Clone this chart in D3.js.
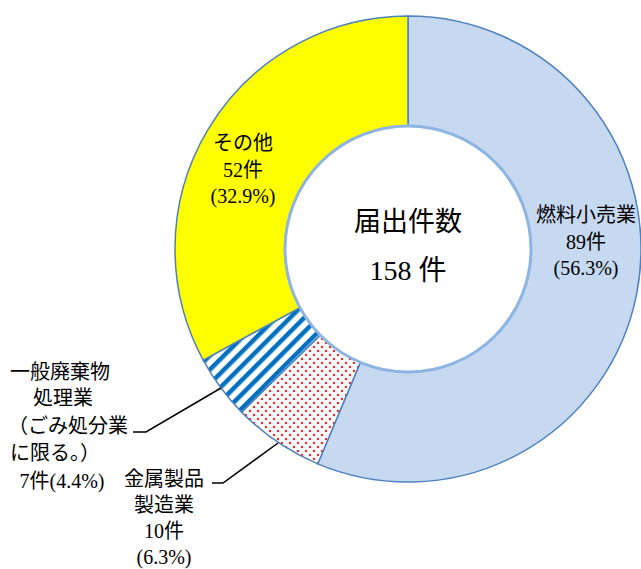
<!DOCTYPE html>
<html><head><meta charset="utf-8">
<script src="https://cdn.jsdelivr.net/npm/d3@7"></script>
<style>
html,body{margin:0;padding:0;background:#fff;}
svg{display:block;}
text{font-family:"Liberation Serif","Noto Sans CJK JP",serif;fill:#000;}
</style></head><body>
<svg id="c" width="641" height="569"></svg>
<script>
const categories = ["燃料小売業","金属製品製造業","一般廃棄物処理業（ごみ処分業に限る。）","その他"];
const counts = [89, 10, 7, 52];
const percents = ["56.3%","6.3%","4.4%","32.9%"];
const total = 158;
const centerTitle = ["届出件数", "158 件"];
const labelLines = [
  ["燃料小売業","89件","(56.3%)"],
  ["金属製品","製造業","10件","(6.3%)"],
  ["一般廃棄物","処理業","（ごみ処分業","に限る。）","7件(4.4%)"],
  ["その他","52件","(32.9%)"]
];

const svg = d3.select("#c");
const cx = 408, cy = 249, R = 233, r = 123;

const defs = svg.append("defs");
const dots = defs.append("pattern").attr("id","dots").attr("patternUnits","userSpaceOnUse")
  .attr("width",8).attr("height",8);
dots.append("rect").attr("width",8).attr("height",8).attr("fill","#fff");
dots.append("circle").attr("cx",2).attr("cy",2).attr("r",1.2).attr("fill","#ff2020");
dots.append("circle").attr("cx",6).attr("cy",6).attr("r",1.2).attr("fill","#ff2020");

const stripes = defs.append("pattern").attr("id","stripes").attr("patternUnits","userSpaceOnUse")
  .attr("width",10).attr("height",10).attr("patternTransform","rotate(-45)");
stripes.append("rect").attr("width",10).attr("height",10).attr("fill","#fff");
stripes.append("rect").attr("y",3).attr("width",10).attr("height",4.5).attr("fill","#0070c0");

const fills = ["#c6d9f0","url(#dots)","url(#stripes)","#ffff00"];

const pie = d3.pie().sort(null).value(d => d)(counts);
const arc = d3.arc().innerRadius(r).outerRadius(R);

const g = svg.append("g").attr("transform",`translate(${cx},${cy})`);
g.selectAll("path.slice").data(pie).join("path")
  .attr("class","slice")
  .attr("d",arc)
  .attr("fill",(d,i)=>fills[i])
  .attr("stroke","#4f81bd").attr("stroke-width",1.5);

g.append("circle").attr("r",r).attr("fill","#fff")
  .attr("stroke","#8db4e2").attr("stroke-width",3);

g.append("text").attr("text-anchor","middle").attr("y",-27).attr("dominant-baseline","central")
  .style("font-size","27px").text(centerTitle[0]);
g.append("text").attr("text-anchor","middle").attr("y",21).attr("dominant-baseline","central")
  .style("font-size","28px").text(centerTitle[1]);

function block(lines, x, y0, lh, fs){
  const t = svg.append("text").attr("text-anchor","middle").style("font-size",fs+"px");
  lines.forEach((s,i)=>{
    t.append("tspan").attr("x",x).attr("y",y0+i*lh).attr("dominant-baseline","central").text(s);
  });
}
block(labelLines[0], 586, 215, 26.5, 20);
block(labelLines[3], 243, 143, 26.5, 20);
block(labelLines[1], 164, 479, 26, 20);

const wl = labelLines[2];
[[wl[0],10,372,"start"],[wl[1],63,398,"middle"],[wl[2],8,426,"start"],[wl[3],10,453,"start"],[wl[4],62,481,"middle"]]
  .forEach(([s,x,y,a])=>{
    svg.append("text").attr("x",x).attr("y",y).attr("dominant-baseline","central")
      .attr("text-anchor",a).style("font-size","20px").text(s);
  });

const line = d3.line();
svg.append("path").attr("d",line([[133,432],[146,432],[221,388]]))
  .attr("fill","none").attr("stroke","#000").attr("stroke-width",1.5);
svg.append("path").attr("d",line([[212,483],[223,483],[278,443]]))
  .attr("fill","none").attr("stroke","#000").attr("stroke-width",1.5);
</script>
</body></html>
